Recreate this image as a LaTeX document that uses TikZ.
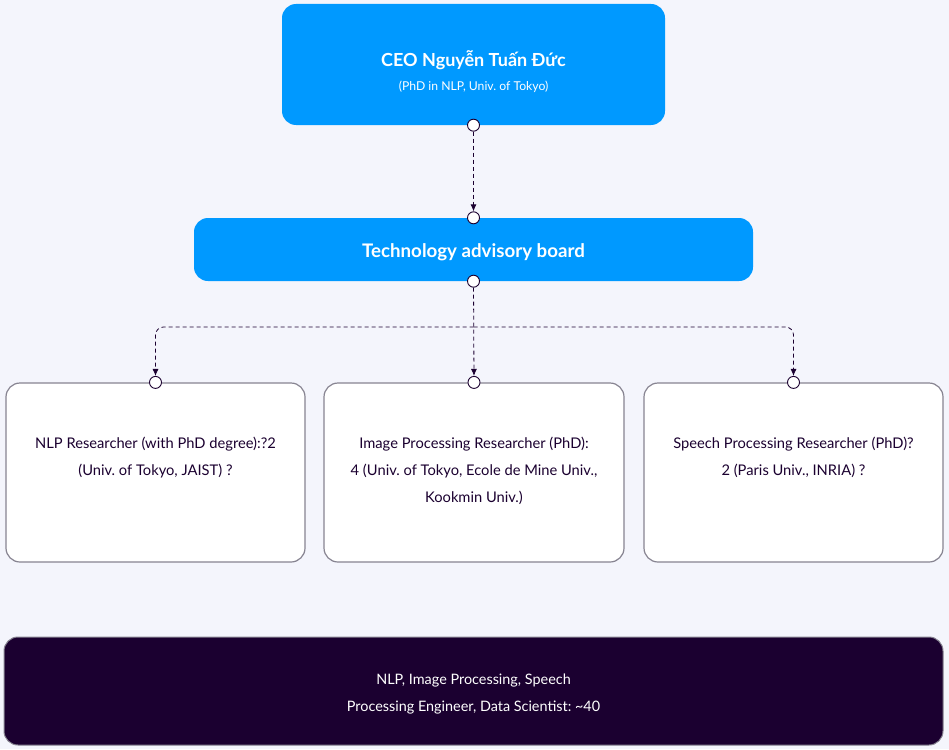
\documentclass[tikz,border=0pt]{standalone}
\usepackage{fontspec}
\setmainfont{Lato}
\usetikzlibrary{arrows.meta}
\definecolor{ceoblue}{RGB}{0,153,255}
\definecolor{darkpurple}{RGB}{27,0,48}
\definecolor{bgcol}{RGB}{244,245,252}
\definecolor{boxgray}{RGB}{135,132,145}
\frenchspacing

\begin{document}
\begin{tikzpicture}[x=1pt,y=-1pt,
    bluebox/.style={draw=none, fill=ceoblue, rounded corners=14pt},
    whitebox/.style={draw=boxgray, line width=1.2pt, fill=white, rounded corners=14pt,
                     minimum width=299pt, minimum height=179pt},
    port/.style={circle, draw=darkpurple, fill=white, line width=0.9pt,
                 inner sep=0pt, minimum size=12pt},
    link/.style={draw=darkpurple, dash pattern=on 4pt off 3pt, line width=0.8pt,
                 -{Latex[length=7pt,width=6pt]}},
    bodytext/.style={text=darkpurple, align=center, inner sep=0pt,
                     font=\fontsize{14.7}{27}\selectfont}]

    % background, fixes the page size
    \fill[bgcol] (0,0) rectangle (949,749);

    % boxes
    \node[bluebox, minimum width=383pt, minimum height=121pt] (ceo) at (473.5,64.5) {};
    \node[bluebox, minimum width=559pt, minimum height=63pt] (board) at (473.5,249.5) {};

    \node[whitebox] (nlp) at (155.5,472.5) {};
    \node[whitebox, minimum width=300pt] (img) at (474,472.5) {};
    \node[whitebox] (speech) at (793.5,472.5) {};

    \node[draw=boxgray, line width=1pt, fill=darkpurple, rounded corners=14pt,
          minimum width=939pt, minimum height=108pt] (eng) at (473.5,691) {};

    % texts
    \node[text=white, font=\fontsize{18}{20}\selectfont\bfseries] (ceoname) at (473.5,60)
        {CEO Nguyễn Tuấn Đức};
    \node[text=white, font=\fontsize{12.2}{14}\selectfont] (ceophd) at (473.5,87)
        {(PhD in NLP, Univ. of Tokyo)};
    \node[text=white, font=\fontsize{18.7}{21}\selectfont\bfseries] (boardname) at (473.5,252)
        {Technology advisory board};

    \node[bodytext, anchor=north] (nlptext) at (155.5,436.5)
        {NLP Researcher (with PhD degree):?2\\(Univ. of Tokyo, JAIST) ?};
    \node[bodytext, anchor=north] (imgtext) at (474,436.5)
        {Image Processing Researcher (PhD):\\4 (Univ. of Tokyo, Ecole de Mine Univ.,\\Kookmin Univ.)};
    \node[bodytext, anchor=north] (speechtext) at (793.5,436.5)
        {Speech Processing Researcher (PhD)?\\2 (Paris Univ., INRIA) ?};
    \node[bodytext, text=white, font=\fontsize{14.4}{27}\selectfont] (engtext) at (473.5,694)
        {NLP, Image Processing, Speech\\Processing Engineer, Data Scientist: \textasciitilde40};

    % ports
    \node[port] (ceoout) at (ceo.south) {};
    \node[port] (boardin) at (board.north) {};
    \node[port] (boardout) at (board.south) {};
    \node[port] (nlpin) at (nlp.north) {};
    \node[port] (imgin) at (img.north) {};
    \node[port] (speechin) at (speech.north) {};

    \coordinate (split) at (473.5,327);

    % connectors
    \draw[link] (ceoout) -- (boardin);
    \draw[link] (boardout) -- (imgin);
    \draw[link, rounded corners=8pt] (split) -| (nlpin);
    \draw[link, rounded corners=8pt] (split) -| (speechin);
\end{tikzpicture}
\end{document}
